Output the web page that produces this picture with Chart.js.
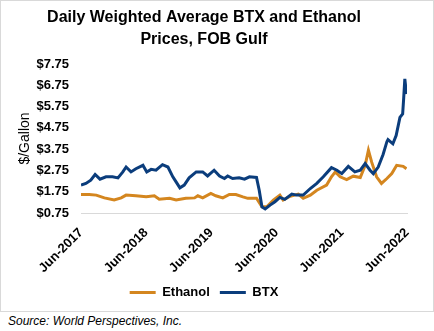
<!DOCTYPE html>
<html>
<head>
<meta charset="utf-8">
<script src="https://cdn.jsdelivr.net/npm/chart.js@4"></script>
<style>
  body { margin: 0; background: #fff; font-family: "Liberation Sans", Arial, sans-serif; }
  #box { position: absolute; left: 0; top: 0; width: 432px; height: 310px; border: 1px solid #d9d9d9; }
  #source { position: absolute; left: 8px; top: 314px; font-size: 12px; font-style: italic; color: #000; }
</style>
</head>
<body>
<div id="box"><canvas id="prices" width="432" height="310"></canvas></div>
<div id="source">Source: World Perspectives, Inc.</div>
<script>
// months counted from Jun-2017
const ethanolMonths = [0, 1.5, 2.8, 4.3, 6.1, 7.4, 8.3, 10.1, 12.0, 13.5, 14.4, 16.3, 17.5, 19.3, 20.9, 21.5, 22.4, 23.9, 24.8, 26.1, 27.3, 28.5, 29.8, 30.7, 32.3, 33.3, 34.2, 35.4, 36.6, 37.2, 38.5, 40.0, 40.9, 42.2, 43.4, 45.2, 46.1, 46.8, 47.7, 48.9, 50.1, 51.4, 52.3, 52.9, 53.5, 54.4, 55.3, 56.3, 57.2, 58.1, 59.3, 59.9];
const ethanolPrices = [1.62, 1.62, 1.59, 1.46, 1.36, 1.46, 1.59, 1.56, 1.51, 1.56, 1.40, 1.44, 1.36, 1.44, 1.46, 1.56, 1.46, 1.67, 1.56, 1.46, 1.62, 1.62, 1.51, 1.44, 1.44, 1.04, 1.04, 1.36, 1.59, 1.36, 1.54, 1.64, 1.44, 1.59, 1.82, 2.06, 2.45, 2.68, 2.45, 2.32, 2.48, 2.42, 2.99, 3.70, 3.14, 2.45, 2.14, 2.37, 2.60, 2.99, 2.94, 2.83];

const btxMonths = [0, 0.9, 1.8, 2.6, 3.5, 4.6, 5.8, 6.8, 7.7, 8.3, 9.2, 10.1, 11.4, 12.1, 12.9, 13.8, 15.0, 16.0, 16.9, 17.5, 18.2, 19.0, 19.9, 21.2, 22.4, 23.3, 24.5, 25.5, 26.4, 27.0, 27.9, 29.1, 30.1, 31.0, 32.3, 32.8, 33.3, 33.9, 34.8, 35.7, 36.6, 37.5, 38.8, 39.7, 40.9, 42.2, 43.4, 44.6, 46.1, 47.1, 48.0, 49.2, 50.4, 51.4, 52.3, 53.2, 53.8, 54.7, 55.6, 56.3, 56.5, 57.4, 58.0, 58.7, 59.2, 59.4, 59.6, 59.9];
const btxPrices = [2.06, 2.14, 2.29, 2.56, 2.34, 2.45, 2.45, 2.40, 2.68, 2.91, 2.68, 2.83, 2.99, 2.68, 2.80, 2.76, 3.02, 2.91, 2.45, 2.21, 1.93, 2.06, 2.40, 2.68, 2.68, 2.49, 2.76, 2.49, 2.37, 2.49, 2.37, 2.40, 2.34, 2.45, 2.42, 1.82, 1.04, 0.94, 1.12, 1.28, 1.48, 1.39, 1.64, 1.59, 1.59, 1.90, 2.14, 2.45, 2.88, 2.76, 2.60, 2.94, 2.68, 2.76, 3.07, 2.76, 2.60, 2.91, 3.50, 4.10, 4.20, 4.00, 4.39, 5.24, 5.40, 6.18, 7.05, 6.34];

const xTicks = [0, 12, 24, 36, 48, 60];
const xTickLabels = ['Jun-2017', 'Jun-2018', 'Jun-2019', 'Jun-2020', 'Jun-2021', 'Jun-2022'];
const yTicks = [0.75, 1.75, 2.75, 3.75, 4.75, 5.75, 6.75, 7.75];

const toPoints = (xs, ys) => xs.map((x, i) => ({ x: x, y: ys[i] }));
const tickFont = { family: 'Liberation Sans', size: 13, weight: 'bold' };

new Chart(document.getElementById('prices'), {
  type: 'line',
  data: {
    datasets: [
      {
        label: 'Ethanol',
        data: toPoints(ethanolMonths, ethanolPrices),
        borderColor: '#d4861f',
        backgroundColor: '#d4861f',
        borderWidth: 3,
        order: 2
      },
      {
        label: 'BTX',
        data: toPoints(btxMonths, btxPrices),
        borderColor: '#0b3d7c',
        backgroundColor: '#0b3d7c',
        borderWidth: 3,
        order: 1
      }
    ]
  },
  options: {
    responsive: false,
    animation: false,
    layout: { padding: { left: 0, right: 26, top: 0, bottom: 2 } },
    elements: {
      line: { tension: 0 },
      point: { radius: 0 }
    },
    plugins: {
      title: {
        display: true,
        text: ['Daily Weighted Average BTX and Ethanol', 'Prices, FOB Gulf'],
        color: '#000',
        font: { family: 'Liberation Sans', size: 16, weight: 'bold', lineHeight: 1.375 },
        padding: { top: 6, bottom: 13 }
      },
      legend: {
        position: 'bottom',
        labels: {
          color: '#000',
          font: tickFont,
          usePointStyle: true,
          pointStyle: 'line',
          pointStyleWidth: 26,
          padding: 10,
          // keep dataset order (Ethanol first) even though BTX is drawn on top
          sort: (a, b) => a.datasetIndex - b.datasetIndex
        }
      },
      tooltip: { enabled: false }
    },
    scales: {
      x: {
        type: 'linear',
        min: 0,
        max: 60,
        afterBuildTicks: (scale) => { scale.ticks = xTicks.map(v => ({ value: v })); },
        afterFit: (scale) => { scale.height = 63; },
        ticks: {
          color: '#000',
          font: tickFont,
          minRotation: 45,
          maxRotation: 45,
          autoSkip: false,
          padding: 12,
          callback: (v) => xTickLabels[xTicks.indexOf(v)]
        },
        grid: { display: false, drawTicks: false },
        border: { display: true, color: '#d9d9d9', width: 1 }
      },
      y: {
        min: 0.75,
        max: 7.75,
        afterBuildTicks: (scale) => { scale.ticks = yTicks.map(v => ({ value: v })); },
        afterFit: (scale) => { scale.width = 80; },
        ticks: {
          color: '#000',
          font: tickFont,
          padding: 12,
          callback: (v) => '$' + v.toFixed(2)
        },
        grid: { display: false, drawTicks: false },
        border: { display: false },
        title: {
          display: true,
          text: '$/Gallon',
          color: '#000',
          font: { family: 'Liberation Sans', size: 14 },
          padding: { top: 16, bottom: 0 }
        }
      }
    }
  }
});
</script>
</body>
</html>
